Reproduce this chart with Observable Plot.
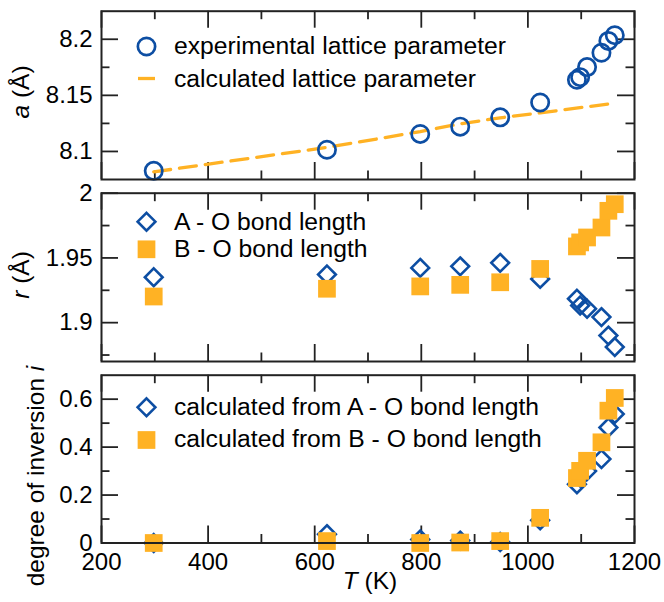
<!DOCTYPE html>
<html><head><meta charset="utf-8">
<script src="https://cdn.jsdelivr.net/npm/d3@7"></script>
<script src="https://cdn.jsdelivr.net/npm/@observablehq/plot@0.6"></script>
<style>
html,body{margin:0;padding:0;background:#fff;}
#chart{position:relative;width:664px;height:602px;font-family:"Liberation Sans",Arial,sans-serif;}
#chart svg{position:absolute;left:0;overflow:visible;background:transparent;}
</style></head><body><div id="chart"></div>
<script>
// ---- data ----
const temperature = [298, 623, 798, 873, 948, 1023, 1092, 1098, 1111, 1138, 1151, 1163];
const latticeExp  = [8.0827, 8.1015, 8.1156, 8.1221, 8.1304, 8.1436, 8.1639, 8.1662, 8.1752, 8.188, 8.1985, 8.2036];
const latticeCalcT = [298, 623, 798, 873, 948, 1023, 1163];
const latticeCalc  = [8.0818, 8.1036, 8.1177, 8.1246, 8.1300, 8.1344, 8.1430];
const bondA = [1.9351, 1.9372, 1.9423, 1.9435, 1.9462, 1.9338, 1.9185, 1.9133, 1.9108, 1.9043, 1.8900, 1.8812];
const bondB = [1.9202, 1.9262, 1.9280, 1.9292, 1.9312, 1.9415, 1.9589, 1.9620, 1.9658, 1.9735, 1.9864, 1.9915];
const inversionA = [0.000, 0.037, 0.015, 0.010, 0.004, 0.095, 0.245, 0.273, 0.300, 0.350, 0.482, 0.538];
const inversionB = [0.000, 0.008, 0.000, 0.002, 0.008, 0.105, 0.271, 0.301, 0.343, 0.420, 0.552, 0.605];

const xTicks = [200, 400, 600, 800, 1000, 1200];
const xMinor = [300, 500, 700, 900, 1100];
const aTicks = [8.1, 8.15, 8.2];   const aMinor = [8.125, 8.175];
const rTicks = [1.9, 1.95, 2];     const rMinor = [1.875, 1.925, 1.975];
const iTicks = [0, 0.2, 0.4, 0.6]; const iMinor = [0.1, 0.3, 0.5];

const legend1 = ["experimental lattice parameter", "calculated lattice parameter"];
const legend2 = ["A - O bond length", "B - O bond length"];
const legend3 = ["calculated from A - O bond length", "calculated from B - O bond length"];

// ---- styling ----
const blue = "#0d4ea3", orange = "#ffb224", ink = "#222";
const FONT = "'Liberation Sans', Arial, sans-serif";
const W = 664, ML = 101, MR = 30;
const rCircle = 8.65, rDiamond = 8, rSquare = 10;

const expRows = temperature.map((T, i) => ({T, a: latticeExp[i], rA: bondA[i], rB: bondB[i], iA: inversionA[i], iB: inversionB[i]}));
const calcRows = latticeCalcT.map((T, i) => ({T, a: latticeCalc[i]}));

const chart = document.getElementById("chart");

function panel({top, height, mt, mb, yDomain, yTicks, yMinor, marks, showX}) {
  const iw = W - ML - MR, ih = height - mt - mb;
  const MAJ = 17, MIN = 8.5, sw = 1.8;
  const t = {stroke: ink, strokeWidth: sw};
  const ticks = [
    Plot.tickX(xTicks, {x: d => d, insetTop: ih - MAJ, ...t}),
    Plot.tickX(xTicks, {x: d => d, insetBottom: ih - MAJ, ...t}),
    Plot.tickX(xMinor, {x: d => d, insetTop: ih - MIN, ...t}),
    Plot.tickX(xMinor, {x: d => d, insetBottom: ih - MIN, ...t}),
    Plot.tickY(yTicks, {y: d => d, insetRight: iw - MAJ, ...t}),
    Plot.tickY(yTicks, {y: d => d, insetLeft: iw - MAJ, ...t}),
    Plot.tickY(yMinor, {y: d => d, insetRight: iw - MIN, ...t}),
    Plot.tickY(yMinor, {y: d => d, insetLeft: iw - MIN, ...t})
  ];
  const axes = [
    Plot.axisY(yTicks, {tickSize: 0, tickPadding: 9, label: null, tickFormat: d => String(d), fill: "#000"})
  ];
  if (showX) axes.push(Plot.axisX(xTicks, {tickSize: 0, tickPadding: 9.5, label: null, tickFormat: d => String(d), fill: "#000"}));
  const svg = Plot.plot({
    width: W, height,
    marginLeft: ML, marginRight: MR, marginTop: mt, marginBottom: mb,
    style: {fontFamily: FONT, fontSize: "24px", color: "#000", background: "transparent", overflow: "visible"},
    x: {domain: [200, 1200], axis: showX ? undefined : null},
    y: {domain: yDomain},
    marks: [...ticks, ...marks, ...axes, Plot.frame({stroke: ink, strokeWidth: 2})]
  });
  svg.style.top = top + "px";
  chart.appendChild(svg);
}

panel({
  top: 0, height: 190, mt: 10.7, mb: 11, yDomain: [8.075, 8.225], yTicks: aTicks, yMinor: aMinor,
  marks: [
    Plot.line(calcRows, {x: "T", y: "a", stroke: orange, strokeWidth: 3.3, strokeDasharray: "17,9"}),
    Plot.dot(expRows, {x: "T", y: "a", r: rCircle, stroke: blue, strokeWidth: 2.7, fill: "none"})
  ]
});
panel({
  top: 181, height: 190, mt: 11.7, mb: 10, yDomain: [1.87, 2.0], yTicks: rTicks, yMinor: rMinor,
  marks: [
    Plot.dot(expRows, {x: "T", y: "rA", symbol: "diamond2", r: rDiamond, stroke: blue, strokeWidth: 2.6, fill: "none"}),
    Plot.dot(expRows, {x: "T", y: "rB", symbol: "square", r: rSquare, fill: orange, stroke: "none"})
  ]
});
panel({
  top: 362, height: 240, mt: 12.7, mb: 59.5, yDomain: [0, 0.7], yTicks: iTicks, yMinor: iMinor, showX: true,
  marks: [
    Plot.dot(expRows, {x: "T", y: "iA", symbol: "diamond2", r: rDiamond, stroke: blue, strokeWidth: 2.6, fill: "none"}),
    Plot.dot(expRows, {x: "T", y: "iB", symbol: "square", r: rSquare, fill: orange, stroke: "none"})
  ]
});

// ---- overlay: axis titles and legends ----
const ov = d3.select(chart).append("svg")
  .attr("width", W).attr("height", 602)
  .style("top", "0px").style("pointer-events", "none")
  .attr("font-family", FONT).attr("font-size", 24.5).attr("fill", "#000");

function yTitle(x, y, italicPart, rest) {
  const t = ov.append("text").attr("transform", `translate(${x},${y}) rotate(-90)`).attr("text-anchor", "middle");
  t.append("tspan").attr("font-style", "italic").text(italicPart);
  t.append("tspan").text(rest);
}
yTitle(28.5, 92, "a", " (Å)");
yTitle(28.5, 275, "r", " (Å)");
{
  const t = ov.append("text").attr("transform", `translate(44,476) rotate(-90)`).attr("text-anchor", "middle");
  t.append("tspan").text("degree of inversion ");
  t.append("tspan").attr("font-style", "italic").text("i");
}
{
  const t = ov.append("text").attr("x", 370).attr("y", 589).attr("text-anchor", "middle");
  t.append("tspan").attr("font-style", "italic").text("T");
  t.append("tspan").text(" (K)");
}

const diamondPath = d3.symbol(d3.symbolDiamond2, Math.PI * rDiamond * rDiamond)();
const squarePath = d3.symbol(d3.symbolSquare, Math.PI * rSquare * rSquare)();
const LX = 146.5, TX = 174;
const lg = ov.append("g").attr("font-size", 24.7);

// panel 1 legend
lg.append("circle").attr("cx", LX).attr("cy", 46.5).attr("r", rCircle).attr("fill", "none").attr("stroke", blue).attr("stroke-width", 2.7);
lg.append("text").attr("x", TX).attr("y", 54).text(legend1[0]);
lg.append("line").attr("x1", 138).attr("x2", 155).attr("y1", 78.5).attr("y2", 78.5).attr("stroke", orange).attr("stroke-width", 3.3);
lg.append("text").attr("x", TX).attr("y", 86.5).text(legend1[1]);
// panel 2 legend
lg.append("path").attr("d", diamondPath).attr("transform", `translate(${LX},221.7)`).attr("fill", "none").attr("stroke", blue).attr("stroke-width", 2.6);
lg.append("text").attr("x", TX).attr("y", 229.5).text(legend2[0]);
lg.append("path").attr("d", squarePath).attr("transform", `translate(${LX},249.3)`).attr("fill", orange);
lg.append("text").attr("x", TX).attr("y", 257).text(legend2[1]);
// panel 3 legend
lg.append("path").attr("d", diamondPath).attr("transform", `translate(${LX},407.3)`).attr("fill", "none").attr("stroke", blue).attr("stroke-width", 2.6);
lg.append("text").attr("x", TX).attr("y", 414.8).text(legend3[0]);
lg.append("path").attr("d", squarePath).attr("transform", `translate(${LX},440)`).attr("fill", orange);
lg.append("text").attr("x", TX).attr("y", 447.3).text(legend3[1]);
</script>
</body></html>
